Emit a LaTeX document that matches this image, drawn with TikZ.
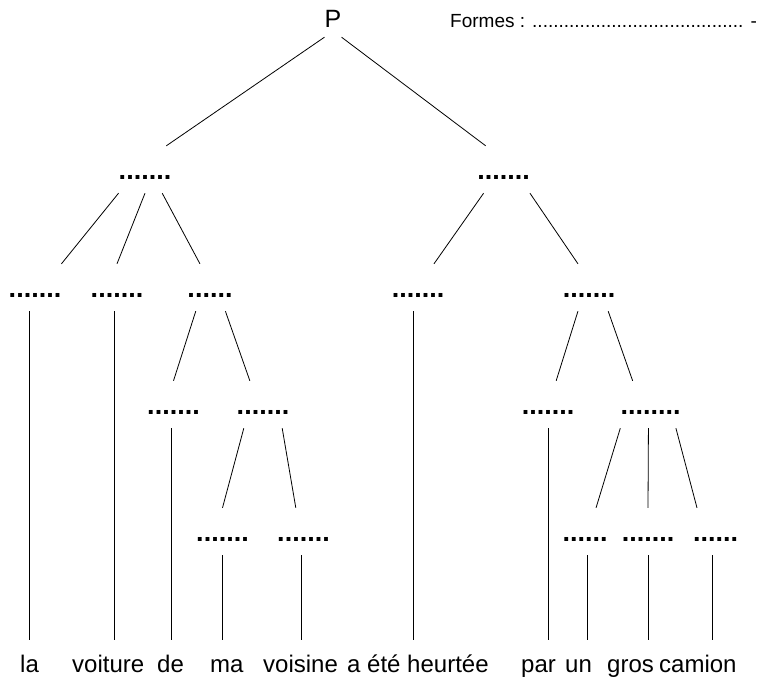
\documentclass[tikz,border=0pt]{standalone}
\usepackage{fontspec}
\setmainfont{Liberation Sans}
\usepackage{tikz}
\definecolor{ink}{HTML}{000000}
\newcommand{\blankfont}{\fontsize{27}{30}\selectfont\bfseries}
\newcommand{\wordfont}{\fontsize{24}{28}\selectfont}
\tikzset{
  branch/.style={draw=ink, line width=0.8pt},
  blank/.style={font=\blankfont, inner sep=0pt, text height=33pt, text depth=14pt, anchor=base},
  word/.style={font=\wordfont, inner sep=0pt, text height=32pt, text depth=6pt, anchor=base west},
  root/.style={font=\fontsize{25}{28}\selectfont, inner sep=0pt, text height=28pt, text depth=9pt, anchor=base},
  note/.style={font=\fontsize{19}{22}\selectfont, inner sep=0pt, anchor=base west}
}

\begin{document}
\begin{tikzpicture}[x=1pt, y=-1pt]
\useasboundingbox (0,0) rectangle (757,679);
% sentence and heading
\node[root] (P) at (333,28) {P};
\node[note] (formes) at (450,28) {Formes : ........................................ -};

% level 1
\node[blank] (gs) at (145,179) {.......};
\node[blank] (gv) at (503.5,179) {.......};

% level 2
\node[blank] (det1) at (35,297) {.......};
\node[blank] (nom1) at (117,297) {.......};
\node[blank] (gp1) at (210,297) {......};
\node[blank] (verbe) at (418,297) {.......};
\node[blank] (gp2) at (589,297) {.......};

% level 3
\node[blank] (prep1) at (173.5,414) {.......};
\node[blank] (gn2) at (263,414) {.......};
\node[blank] (prep2) at (548,414) {.......};
\node[blank] (gn3) at (650.5,414) {........};

% level 4
\node[blank] (det2) at (222.5,541) {.......};
\node[blank] (nom2) at (303.5,541) {.......};
\node[blank] (det3) at (585,541) {......};
\node[blank] (adj) at (648,541) {.......};
\node[blank] (nom3) at (715.5,541) {......};

% words
\node[word] (wla) at (20,672) {la};
\node[word] (wvoiture) at (72,672) {voiture};
\node[word] (wde) at (157,672) {de};
\node[word] (wma) at (210,672) {ma};
\node[word] (wvoisine) at (263,672) {voisine};
\node[word] (wverbe) at (347,672) {a été heurtée};
\node[word] (wpar) at (521,672) {par};
\node[word] (wun) at (565,672) {un};
\node[word] (wgros) at (607,672) {gros};
\node[word] (wcamion) at (659,672) {camion};

% branches
\draw[branch] (P.south west) -- (gs.48);
\draw[branch] (P.south east) -- (gv.127);
\draw[branch] (gs.south west) -- (det1.north east);
\draw[branch] (gs.south) -- (nom1.north);
\draw[branch] (gs.-54) -- (gp1.113);
\draw[branch] (gv.-130) -- (verbe.56);
\draw[branch] (gv.south east) -- (gp2.115);
\draw[branch] (gp1.-121) -- (prep1.north);
\draw[branch] (gp1.-57) -- (gn2.119);
\draw[branch] (gp2.-115) -- (prep2.71);
\draw[branch] (gp2.-51) -- (gn3.127);
\draw[branch] (gn2.-129) -- (det2.north);
\draw[branch] (gn2.-51) -- (nom2.108);
\draw[branch] (gn3.south west) -- (det3.65);
\draw[branch] (gn3.-95) -- (adj.north);
\draw[branch] (gn3.-43) -- (nom3.128);

% down to the words
\foreach \a/\b/\t in {det1/wla/-104, nom1/wvoiture/-96, prep1/wde/-96, det2/wma/-90,
                      nom2/wvoisine/-96, verbe/wverbe/-102, prep2/wpar/-90,
                      det3/wun/-84, adj/wgros/-90, nom3/wcamion/-98}
  \draw[branch] (\a.\t) -- (\a.\t |- \b.north);
\end{tikzpicture}
\end{document}
